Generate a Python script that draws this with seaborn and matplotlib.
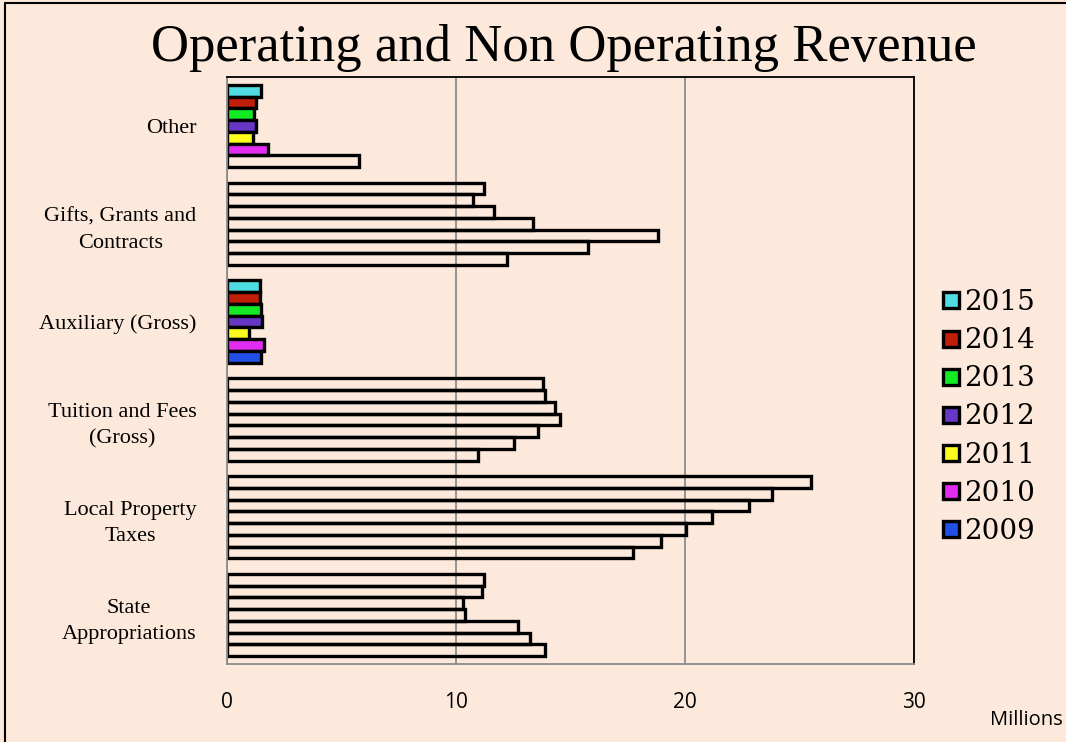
import matplotlib
matplotlib.use("Agg")
import matplotlib.pyplot as plt
import numpy as np
import pandas as pd
import seaborn as sns
from matplotlib.lines import Line2D

# data (millions)
categories = ["Other", "Gifts, Grants and\nContracts", "Auxiliary (Gross)",
              "Tuition and Fees\n(Gross)", "Local Property\nTaxes", "State\nAppropriations"]
years = ["2015", "2014", "2013", "2012", "2011", "2010", "2009"]
other = [1.49, 1.27, 1.18, 1.27, 1.15, 1.78, 5.76]
gifts = [11.24, 10.73, 11.67, 13.37, 18.83, 15.78, 12.21]
auxiliary = [1.46, 1.46, 1.49, 1.53, 0.96, 1.60, 1.49]
tuition = [13.79, 13.90, 14.31, 14.53, 13.57, 12.55, 10.94]
property_tax = [25.50, 23.82, 22.78, 21.19, 20.03, 18.95, 17.75]
state = [11.22, 11.12, 10.30, 10.38, 12.69, 13.22, 13.89]

year_colors = ["#4fdde3", "#c01e08", "#14ea24", "#6636c4", "#fbfb1e", "#e22cf2", "#2150e6"]
bg = "#fce9db"

values = [other, gifts, auxiliary, tuition, property_tax, state]
rows = []
for cat, vals in zip(categories, values):
    for yr, v in zip(years, vals):
        rows.append({"category": cat, "year": yr, "value": v})
df = pd.DataFrame(rows)

sns.set_style("white")
plt.rcParams["font.family"] = ["Liberation Serif", "DejaVu Sans"]
plt.rcParams["text.color"] = "black"
plt.rcParams["xtick.color"] = "black"
plt.rcParams["ytick.color"] = "black"

fig = plt.figure(figsize=(10.66, 7.42), dpi=100, facecolor=bg)
ax = fig.add_axes([227 / 1066, 1 - 664 / 742, (914 - 227) / 1066, (664 - 77) / 742])
ax.set_facecolor(bg)

sns.barplot(data=df, y="category", x="value", hue="year", order=categories,
            hue_order=years, palette=year_colors, orient="h", width=0.84,
            edgecolor="black", linewidth=2.4, saturation=1, legend=False, ax=ax)

# only some groups are filled in the original
for yr, cont in zip(years, ax.containers):
    for cat, bar in zip(categories, cont):
        filled = cat == "Auxiliary (Gross)" or (cat == "Other" and yr != "2009")
        if not filled:
            bar.set_facecolor("none")

ax.set_xlim(0, 30)
ax.set_ylim(len(categories) - 0.5, -0.5)
ax.set_xticks([0, 10, 20, 30])
ax.grid(axis="x", color="#8c8c8c", linewidth=1.3)
ax.set_axisbelow(True)
ax.set_xlabel("")
ax.set_ylabel("")

ax.tick_params(axis="x", length=6, color="#8c8c8c", labelcolor="black", pad=14, labelsize=15)
for lab in ax.get_xticklabels():
    lab.set_fontfamily("Open Sans")
ax.tick_params(axis="y", which="major", length=0, pad=22, labelsize=16, labelcolor="black")
for lab in ax.get_yticklabels():
    lab.set_multialignment("center")
    lab.set_linespacing(1.55)
ax.set_yticks(np.arange(-0.5, len(categories) + 0.5), minor=True)
ax.tick_params(axis="y", which="minor", length=7, color="#8c8c8c", width=1.3)

for side in ["left", "bottom"]:
    ax.spines[side].set_color("#8c8c8c")
    ax.spines[side].set_linewidth(1.3)
for side in ["top", "right"]:
    ax.spines[side].set_color("black")
    ax.spines[side].set_linewidth(1.3)

handles = [Line2D([], [], marker="s", linestyle="none", markersize=12,
                  markerfacecolor=c, markeredgecolor="black", markeredgewidth=2.4)
           for c in year_colors]
fig.legend(handles, years, loc="center left", bbox_to_anchor=(941 / 1066, 1 - 417 / 742),
           frameon=False, prop={"family": "DejaVu Serif", "size": 20},
           handlelength=0.7, handletextpad=0.12, labelspacing=0.4, borderaxespad=0,
           borderpad=0)

fig.text(564 / 1066, 1 - 48 / 742, "Operating and Non Operating Revenue",
         ha="center", va="center", fontsize=38)
fig.text(1 - 3 / 1066, 1 - 720 / 742, "Millions", ha="right", va="center",
         fontsize=14.5, family="Open Sans")

# frame lines around the slide
fig.add_artist(Line2D([5 / 1066, 5 / 1066], [0, 1 - 3 / 742], transform=fig.transFigure,
                      color="black", linewidth=1.5))
fig.add_artist(Line2D([5 / 1066, 1], [1 - 3 / 742, 1 - 3 / 742], transform=fig.transFigure,
                      color="black", linewidth=1.5))

fig.savefig("out.png", dpi=100, facecolor=bg)
